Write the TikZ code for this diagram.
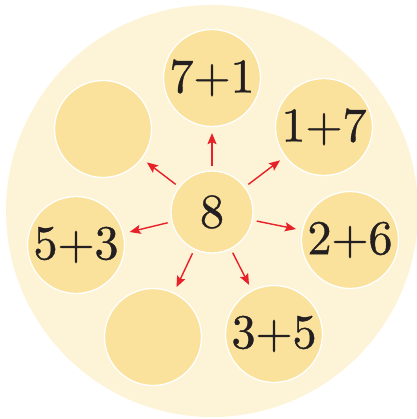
\documentclass[tikz,border=0pt]{standalone}
\usepackage{fontspec}
\usetikzlibrary{arrows.meta}
\newfontfamily\numfont{lmroman10-regular.otf}[RawFeature={embolden=0.7}]
\definecolor{bgc}{RGB}{253,243,214}
\definecolor{cc}{RGB}{251,226,156}
\definecolor{ar}{RGB}{232,32,40}
\definecolor{tx}{RGB}{35,31,32}
\newcommand{\pl}{\kern-0.5pt+\kern-0.5pt}
\begin{document}
\begin{tikzpicture}[x=1pt,y=-1pt,
 disc/.style={circle,fill=cc,draw=white,line width=1.3pt,minimum size=97pt,inner sep=0pt,
   font=\numfont\fontsize{48.5}{48.5}\selectfont,text=tx},
 hub/.style={disc,minimum size=82pt},
 arr/.style={draw=ar,line width=1.4pt,-{Stealth[length=11pt,width=9pt,inset=2pt]},
   shorten <=4pt,shorten >=6pt}]
\useasboundingbox (0,0) rectangle (416,419);
\fill[bgc] (212,211) circle[radius=206];
\node[hub] (h) at (212,212) {8};
\node[disc] (a) at (212,78) {7\pl1};
\node[disc] (b) at (324,127) {1\pl7};
\node[disc] (c) at (350,240) {2\pl6};
\node[disc] (d) at (274,334) {3\pl5};
\node[disc] (e) at (153,337) {};
\node[disc] (f) at (76,245) {5\pl3};
\node[disc] (g) at (103,129) {};
\foreach \t in {a,b,c,d,e,f,g} \draw[arr] (h) -- (\t);
\end{tikzpicture}
\end{document}
